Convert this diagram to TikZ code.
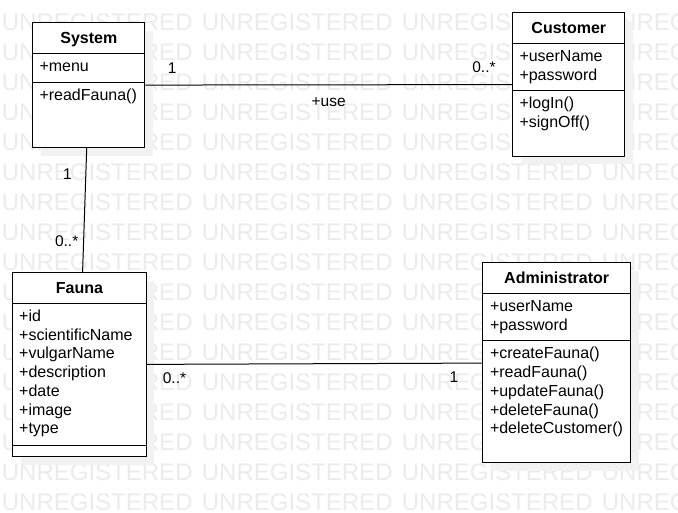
\documentclass[tikz,border=0pt]{standalone}
\usepackage{fontspec}
\setmainfont{Liberation Sans}
\usetikzlibrary{shadows}

\begin{document}
\begin{tikzpicture}[x=1pt,y=-1pt,
 umlbox/.style={draw=black,line width=1pt,fill=white,anchor=north west,inner sep=0pt,
  drop shadow={shadow xshift=8pt,shadow yshift=-8pt,fill=black!5,opacity=1}},
 sepline/.style={draw=black,line width=1pt},
 cname/.style={font=\fontsize{16}{18.7}\selectfont\bfseries,anchor=base,inner sep=0pt},
 member/.style={font=\fontsize{16}{18.7}\selectfont,anchor=base west,inner sep=0pt},
 mult/.style={font=\fontsize{15.5}{18}\selectfont,anchor=base,inner sep=0pt},
 wmark/.style={font=\fontsize{24}{28}\selectfont,text=black!8,anchor=base west,inner sep=0pt},
 assoc/.style={draw=black,line width=1pt}]
 \useasboundingbox (0,0) rectangle (678,512);
 % watermark
 \begin{scope}
  \clip (0,0) rectangle (678,512);
  \foreach \r in {0,...,16}
   \foreach \c in {0,...,3}
    \node[wmark] (wm-\r-\c) at (1.7+200*\c,30+30*\r) {UNREGISTERED};
 \end{scope}
 % System
 \node[umlbox,minimum width=112pt,minimum height=124.7pt] (system) at (32.3,22.3) {};
 \node[cname] (system-name) at ([yshift=-21pt]system.north) {System};
 \draw[sepline] ([yshift=-31pt]system.north west) -- ([yshift=-31pt]system.north east);
 \node[member] (system-menu) at ([xshift=7pt,yshift=-49.2pt]system.north west) {+menu};
 \draw[sepline] ([yshift=-59.7pt]system.north west) -- ([yshift=-59.7pt]system.north east);
 \node[member] (system-read) at ([xshift=7pt,yshift=-77.9pt]system.north west) {+readFauna()};
 % Customer
 \node[umlbox,minimum width=112pt,minimum height=143.4pt] (customer) at (512.3,12.3) {};
 \node[cname] (customer-name) at ([yshift=-21pt]customer.north) {Customer};
 \draw[sepline] ([yshift=-31pt]customer.north west) -- ([yshift=-31pt]customer.north east);
 \foreach \t [count=\i from 0] in {+userName,+password}
  \node[member] (customer-attr-\i) at ([xshift=7pt,yshift={-49.2pt-18.7pt*\i}]customer.north west) {\t};
 \draw[sepline] ([yshift=-78.4pt]customer.north west) -- ([yshift=-78.4pt]customer.north east);
 \foreach \t [count=\i from 0] in {+logIn(),+signOff()}
  \node[member] (customer-op-\i) at ([xshift=7pt,yshift={-96.6pt-18.7pt*\i}]customer.north west) {\t};
 % Fauna
 \node[umlbox,minimum width=133.4pt,minimum height=183.7pt] (fauna) at (12.3,272.3) {};
 \node[cname] (fauna-name) at ([yshift=-21pt]fauna.north) {Fauna};
 \draw[sepline] ([yshift=-31pt]fauna.north west) -- ([yshift=-31pt]fauna.north east);
 \foreach \t [count=\i from 0] in {+id,+scientificName,+vulgarName,+description,+date,+image,+type}
  \node[member] (fauna-attr-\i) at ([xshift=6.7pt,yshift={-49.2pt-18.7pt*\i}]fauna.north west) {\t};
 \draw[sepline] ([yshift=-172.7pt]fauna.north west) -- ([yshift=-172.7pt]fauna.north east);
 % Administrator
 \node[umlbox,minimum width=147.7pt,minimum height=200pt] (admin) at (482.3,262.3) {};
 \node[cname] (admin-name) at ([yshift=-21pt]admin.north) {Administrator};
 \draw[sepline] ([yshift=-31pt]admin.north west) -- ([yshift=-31pt]admin.north east);
 \foreach \t [count=\i from 0] in {+userName,+password}
  \node[member] (admin-attr-\i) at ([xshift=7.5pt,yshift={-49.2pt-18.7pt*\i}]admin.north west) {\t};
 \draw[sepline] ([yshift=-78.4pt]admin.north west) -- ([yshift=-78.4pt]admin.north east);
 \foreach \t [count=\i from 0] in {+createFauna(),+readFauna(),+updateFauna(),+deleteFauna(),+deleteCustomer()}
  \node[member] (admin-op-\i) at ([xshift=7.5pt,yshift={-96.6pt-18.7pt*\i}]admin.north west) {\t};
 % associations
 \draw[assoc] (system) -- (customer);
 \draw[assoc] (system) -- (fauna);
 \draw[assoc] (fauna) -- (admin);
 \node[mult] (sc-one) at (172.3,73.3) {1};
 \node[mult] (sc-many) at (484,72.7) {0..*};
 \node[mult] (sc-use) at (328.7,106) {+use};
 \node[mult] (sf-one) at (67.5,179) {1};
 \node[mult] (sf-many) at (66.7,246.7) {0..*};
 \node[mult] (fa-many) at (174.5,383) {0..*};
 \node[mult] (fa-one) at (454,382.5) {1};
\end{tikzpicture}
\end{document}
